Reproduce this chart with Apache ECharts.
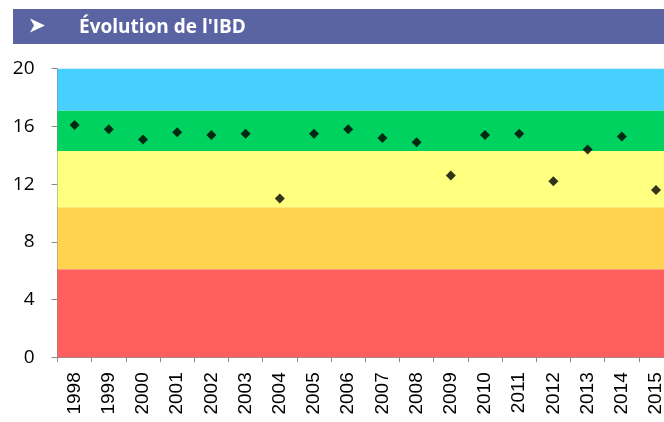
<!DOCTYPE html>
<html>
<head>
<meta charset="utf-8">
<script src="https://cdn.jsdelivr.net/npm/echarts@6/dist/echarts.min.js"></script>
<style>
  html, body { margin: 0; padding: 0; background: #fff; }
  #main { width: 664px; height: 422px; }
</style>
</head>
<body>
<div id="main"></div>
<script>
// années
var years = ['1998', '1999', '2000', '2001', '2002', '2003', '2004', '2005', '2006',
             '2007', '2008', '2009', '2010', '2011', '2012', '2013', '2014', '2015'];
// valeurs IBD
var ibdValues = [16.1, 15.8, 15.1, 15.6, 15.4, 15.5, 11.0, 15.5, 15.8,
                 15.2, 14.9, 12.6, 15.4, 15.5, 12.2, 14.4, 15.3, 11.6];
// limites des classes de qualité
var bandLimits = [0, 6.1, 10.4, 14.3, 17.1, 20];
var bandColors = ['#ff5f5f', '#ffd350', '#ffff80', '#00d260', '#47cfff'];

var bands = [];
for (var i = 0; i < bandColors.length; i++) {
    bands.push([
        { yAxis: bandLimits[i], itemStyle: { color: bandColors[i] } },
        { yAxis: bandLimits[i + 1] }
    ]);
}

var myChart = echarts.init(document.getElementById('main'));
myChart.setOption({
    animation: false,
    graphic: [
        {
            type: 'rect',
            shape: { x: 13, y: 9, width: 651, height: 35 },
            style: { fill: '#5b64a2' }
        },
        {
            // flèche du bandeau
            type: 'polygon',
            shape: { points: [[30, 18.5], [45, 25.5], [30, 32.5], [34, 25.5]] },
            style: { fill: '#fff' }
        },
        {
            type: 'text',
            x: 79, y: 27.5,
            style: {
                text: "Évolution de l'IBD", fill: '#fff',
                font: 'bold 19px "Open Sans"', verticalAlign: 'middle'
            }
        }
    ],
    // le graphique déborde à droite (2015 coupé)
    grid: {
        left: 57.5, width: 615.6, top: 68.7, bottom: 64.7,
        outerBoundsMode: 'none'
    },
    xAxis: {
        type: 'category',
        data: years,
        boundaryGap: true,
        axisLine: { lineStyle: { color: '#8c8c8c', width: 1 } },
        axisTick: { show: true, length: 5, lineStyle: { color: '#8c8c8c' } },
        axisLabel: {
            rotate: 90, margin: 15, color: '#000', interval: 0,
            fontFamily: 'Liberation Sans', fontSize: 19
        }
    },
    yAxis: {
        type: 'value',
        min: 0, max: 20, interval: 4,
        splitLine: { show: false },
        axisLine: { show: true, lineStyle: { color: '#8c8c8c', width: 1 } },
        axisTick: { show: true, length: 6, lineStyle: { color: '#8c8c8c' } },
        axisLabel: {
            margin: 23, color: '#000',
            fontFamily: 'Open Sans', fontSize: 19
        }
    },
    series: [
        {
            type: 'scatter',
            data: ibdValues,
            symbol: 'diamond',
            symbolSize: 10,
            itemStyle: { color: '#000' },
            z: 5,
            markArea: {
                silent: true,
                label: { show: false },
                data: bands
            }
        }
    ]
});
</script>
</body>
</html>
